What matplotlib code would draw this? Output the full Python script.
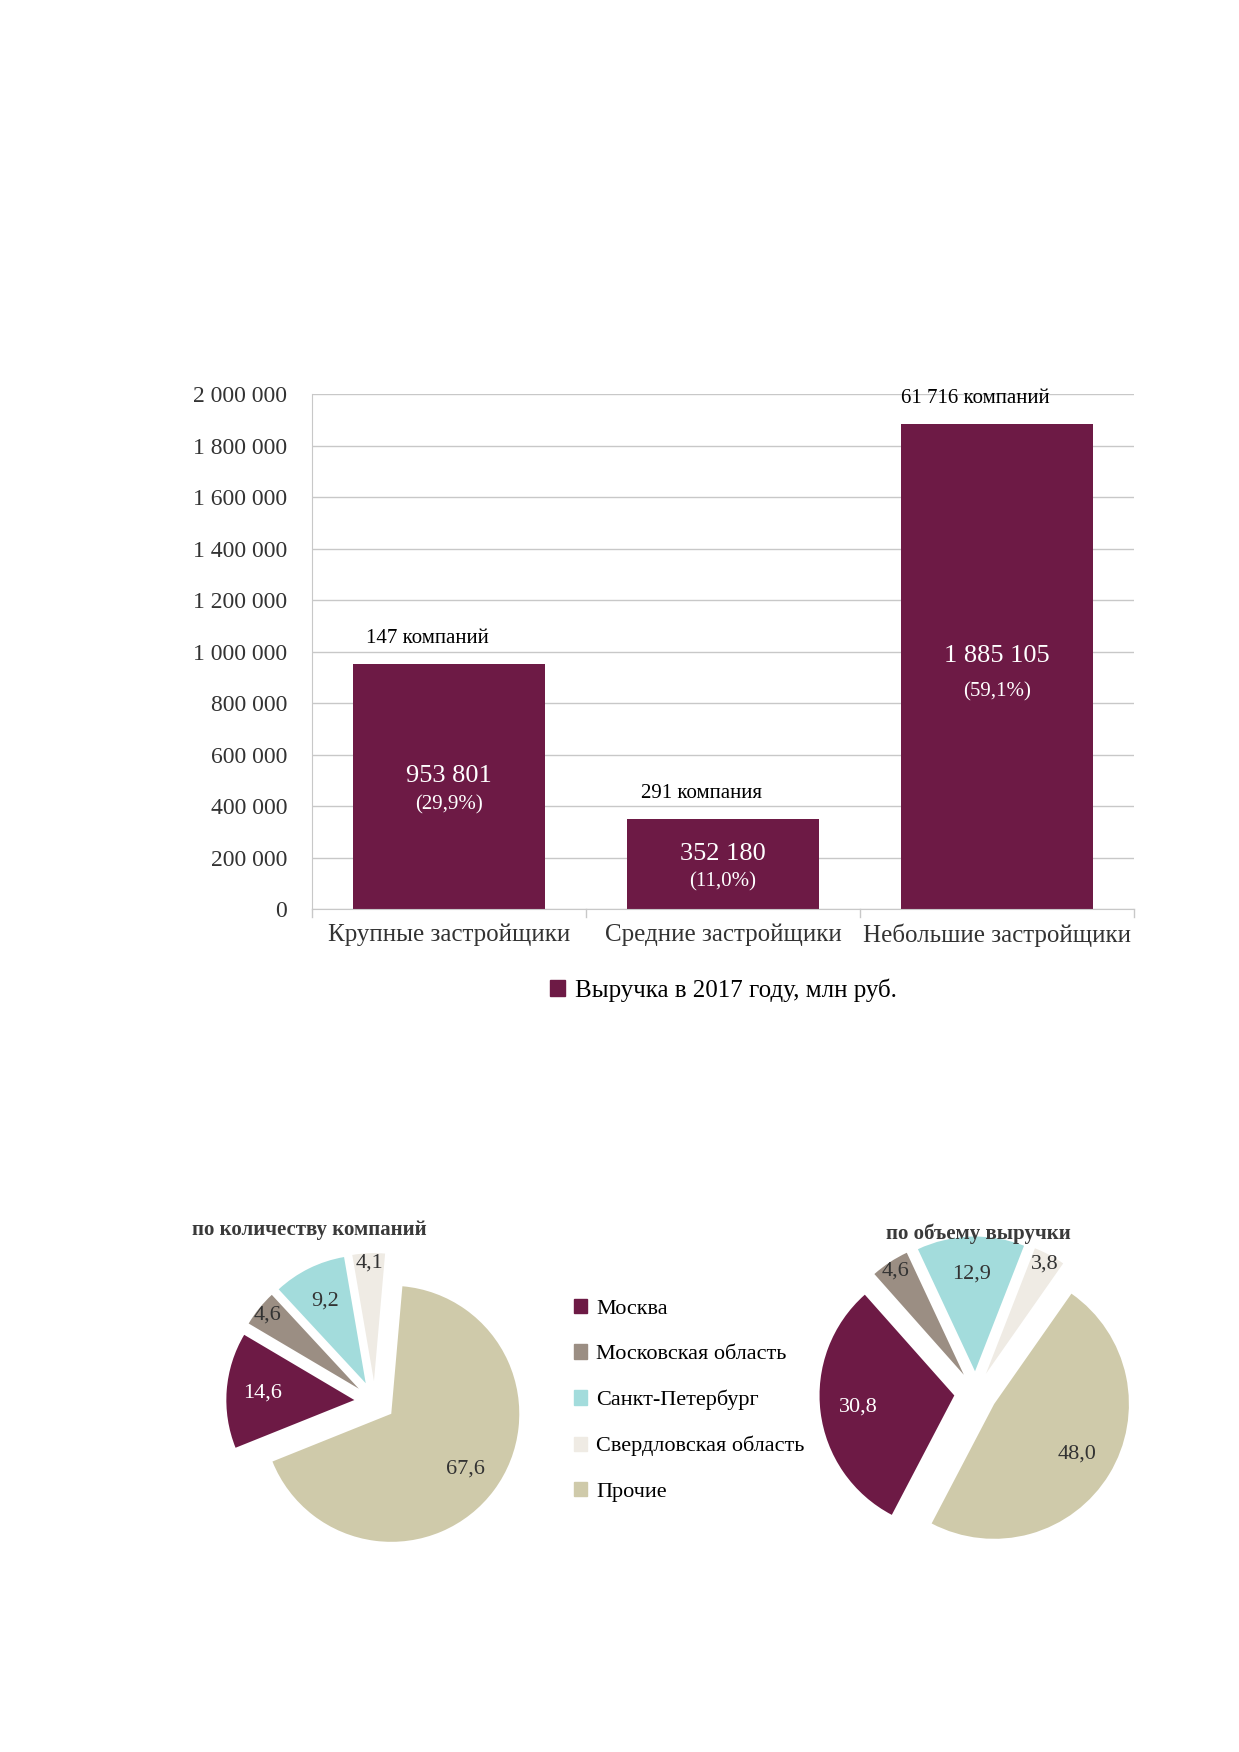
import matplotlib
matplotlib.use("Agg")
import matplotlib.pyplot as plt
from matplotlib.patches import Patch
import numpy as np

plt.rcParams['font.family'] = ['Liberation Serif', 'DejaVu Serif']

categories = ["Крупные застройщики", "Средние застройщики", "Небольшие застройщики"]
revenue = [953801, 352180, 1885105]
shares = ["(29,9%)", "(11,0%)", "(59,1%)"]
companies = ["147 компаний", "291 компания", "61 716 компаний"]
yticks = [0, 200000, 400000, 600000, 800000, 1000000, 1200000, 1400000, 1600000, 1800000, 2000000]

regions = ["Москва", "Московская область", "Санкт-Петербург", "Свердловская область", "Прочие"]
by_count = [14.6, 4.6, 9.2, 4.1, 67.6]
by_revenue = [30.8, 4.6, 12.9, 3.8, 48.0]
colors = ["#6d1a45", "#9b8e83", "#a3dcdc", "#efebe4", "#cfcaaa"]

def fmt(v):
    return f"{v:,}".replace(",", " ")

fig = plt.figure(figsize=(12.39, 17.52), dpi=100)
ax = fig.add_axes([0.252, 0.481, 0.663, 0.294])
x = range(len(categories))
ax.bar(x, revenue, width=0.7, color="#6d1a45", zorder=2)
ax.set_ylim(0, 2000000)
ax.set_xlim(-0.5, 2.5)
ax.set_yticks(yticks)
ax.set_yticklabels([fmt(v) for v in yticks], fontsize=17, color="#333333")
ax.set_xticks(list(x))
ax.set_xticklabels(categories, fontsize=18, color="#333333")
ax.yaxis.grid(True, color="#c8c8c8", lw=1, zorder=0)
for s in ["top", "right"]:
    ax.spines[s].set_visible(False)
ax.spines["left"].set_color("#c8c8c8")
ax.spines["bottom"].set_color("#c8c8c8")
ax.tick_params(axis="y", length=0, pad=18)
ax.tick_params(axis="x", length=0, pad=10)
for b in [-0.5, 0.5, 1.5, 2.5]:
    ax.plot([b, b], [0, -30000], color="#c8c8c8", lw=1, clip_on=False)
for i, v in enumerate(revenue):
    ax.text(i - 0.08, v + 60000, companies[i], ha="center", va="bottom", fontsize=15)
    mid = v * 0.5
    ax.text(i, mid + 40000, fmt(v), ha="center", va="center", fontsize=19, color="white")
    ax.text(i, mid - (100000 if i == 2 else 70000), shares[i], ha="center", va="center",
            fontsize=15, color="white")
ax.legend(handles=[Patch(color="#6d1a45", label="Выручка в 2017 году, млн руб.")],
          loc="upper center", bbox_to_anchor=(0.5, -0.09), frameon=False, fontsize=18,
          handlelength=0.6, handleheight=0.6, handletextpad=0.4)

def pie(rect, vals, start, title, tx, ty):
    a = fig.add_axes(rect)
    order = [4, 0, 1, 2, 3]
    v = [vals[k] for k in order]
    c = [colors[k] for k in order]
    wedges, texts = a.pie(v, colors=c, startangle=start, counterclock=False,
                          explode=[0.16] * 5, radius=1.0)
    for w, val, k in zip(wedges, v, order):
        ang = np.deg2rad((w.theta1 + w.theta2) / 2)
        r = 0.72 if val > 5 else 0.92
        a.text((r + 0.16) * np.cos(ang), (r + 0.16) * np.sin(ang),
               f"{val:.1f}".replace(".", ","), ha="center", va="center", fontsize=16,
               color="white" if k == 0 else "#333333")
    a.set_xlim(-1.3, 1.3)
    a.set_ylim(-1.3, 1.3)
    a.set_aspect("equal")
    fig.text(tx, ty, title, fontsize=15, fontweight="bold", color="#3a3a3a")

pie([0.165, 0.105, 0.275, 0.19], by_count, 85, "по количеству компаний", 0.155, 0.295)
pie([0.645, 0.105, 0.285, 0.2], by_revenue, 55, "по объему выручки", 0.715, 0.293)

fig.legend(handles=[Patch(color=c, label=l) for c, l in zip(colors, regions)],
           loc="upper left", bbox_to_anchor=(0.447, 0.27), frameon=False, fontsize=16,
           labelspacing=1.15, handlelength=0.6, handleheight=0.6, handletextpad=0.4)

fig.savefig("out.png", dpi=100, facecolor="white")
